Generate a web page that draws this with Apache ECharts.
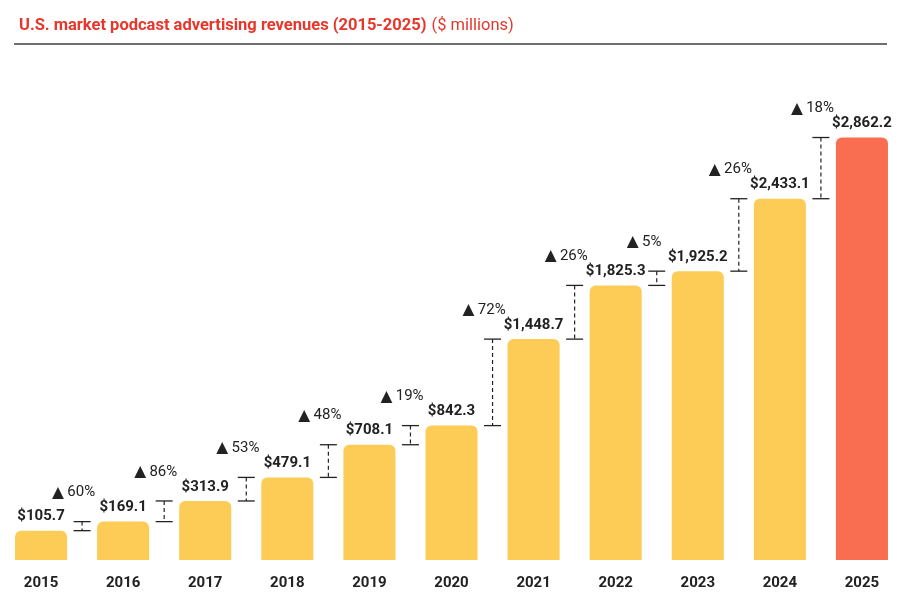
<!DOCTYPE html>
<html>
<head>
<meta charset="utf-8">
<script src="https://cdn.jsdelivr.net/npm/echarts@6/dist/echarts.min.js"></script>
<style>
  html, body { margin: 0; padding: 0; background: #fff; }
  #chart { width: 912px; height: 612px; }
</style>
</head>
<body>
<div id="chart"></div>
<script>
// data
const years = ['2015', '2016', '2017', '2018', '2019', '2020', '2021', '2022', '2023', '2024', '2025']
const revenues = [105.7, 169.1, 313.9, 479.1, 708.1, 842.3, 1448.7, 1825.3, 1925.2, 2433.1, 2862.2]
const growth = [60, 86, 53, 48, 19, 72, 26, 5, 26, 18]

const Y_MIN = -100
const Y_MAX = 2985
const YELLOW = '#FCCC56'
const CORAL = '#F96E50'
const INK = '#222222'

function money(v) {
  return '$' + v.toLocaleString('en-US', { minimumFractionDigits: 1, maximumFractionDigits: 1 })
}

const chart = echarts.init(document.getElementById('chart'))

chart.setOption({
  animation: false,
  title: {
    text: '{a|U.S. market podcast advertising revenues (2015-2025)} {b|($ millions)}',
    left: 14,
    top: 12,
    textStyle: {
      fontWeight: 'normal',
      rich: {
        a: { fontFamily: 'Roboto', fontWeight: 'bold', fontSize: 16.5, color: '#E8362B' },
        b: { fontFamily: 'Roboto', fontWeight: 'normal', fontSize: 16.5, color: '#E8362B' }
      }
    }
  },
  graphic: [{
    type: 'line',
    shape: { x1: 14, y1: 44, x2: 887, y2: 44 },
    style: { stroke: '#6f6f6f', lineWidth: 2 }
  }],
  grid: { left: 0, right: 9, top: 120, bottom: 52 },
  xAxis: {
    type: 'category',
    data: years,
    axisLine: { show: false },
    axisTick: { show: false },
    axisLabel: {
      margin: 16,
      fontFamily: 'Roboto',
      fontWeight: 'bold',
      fontSize: 15,
      color: INK
    }
  },
  yAxis: {
    type: 'value',
    min: Y_MIN,
    max: Y_MAX,
    show: false,
    splitLine: { show: false }
  },
  series: [
    {
      // bars drawn from the axis floor so the short ones keep their base
      type: 'custom',
      data: revenues.map((v, i) => [i, v]),
      encode: { x: 0, y: 1 },
      renderItem(params, api) {
        const i = api.value(0)
        const v = api.value(1)
        const top = api.coord([i, v])
        const base = api.coord([i, Y_MIN])
        const w = api.size([1, 0])[0] * 0.634
        return {
          type: 'group',
          children: [
            {
              type: 'rect',
              shape: { x: top[0] - w / 2, y: top[1], width: w, height: base[1] - top[1], r: [6, 6, 0, 0] },
              style: { fill: i === revenues.length - 1 ? CORAL : YELLOW }
            },
            {
              type: 'text',
              x: top[0],
              y: top[1] - 14,
              style: {
                text: money(v),
                fill: INK,
                font: 'bold 15px Roboto',
                align: 'center',
                verticalAlign: 'middle'
              }
            }
          ]
        }
      }
    },
    {
      // growth connectors between neighbouring bars
      type: 'custom',
      data: growth.map((g, i) => [i, revenues[i], revenues[i + 1], g]),
      encode: { x: 0, y: [1, 2] },
      renderItem(params, api) {
        const i = api.value(0)
        const a = api.coord([i, api.value(1)])
        const b = api.coord([i + 1, api.value(2)])
        const x = (a[0] + b[0]) / 2
        const yHi = Math.min(a[1], b[1])
        const yLo = Math.max(a[1], b[1])
        const cap = 8.5
        const stroke = { stroke: INK, lineWidth: 1.3 }
        return {
          type: 'group',
          children: [
            { type: 'line', shape: { x1: x - cap, y1: yHi, x2: x + cap, y2: yHi }, style: stroke },
            { type: 'line', shape: { x1: x - cap, y1: yLo, x2: x + cap, y2: yLo }, style: stroke },
            {
              type: 'line',
              shape: { x1: x, y1: yHi, x2: x, y2: yLo },
              style: { stroke: INK, lineWidth: 1.2, lineDash: [4, 3] }
            },
            {
              type: 'text',
              x: x - 30,
              y: yHi - 29,
              style: {
                text: '{t|▲} {p|' + api.value(3) + '%}',
                align: 'left',
                verticalAlign: 'middle',
                rich: {
                  t: { fontFamily: 'DejaVu Sans', fontSize: 15.5, fill: INK },
                  p: { fontFamily: 'Roboto', fontSize: 15, fill: INK }
                }
              }
            }
          ]
        }
      }
    }
  ]
})
</script>
</body>
</html>
